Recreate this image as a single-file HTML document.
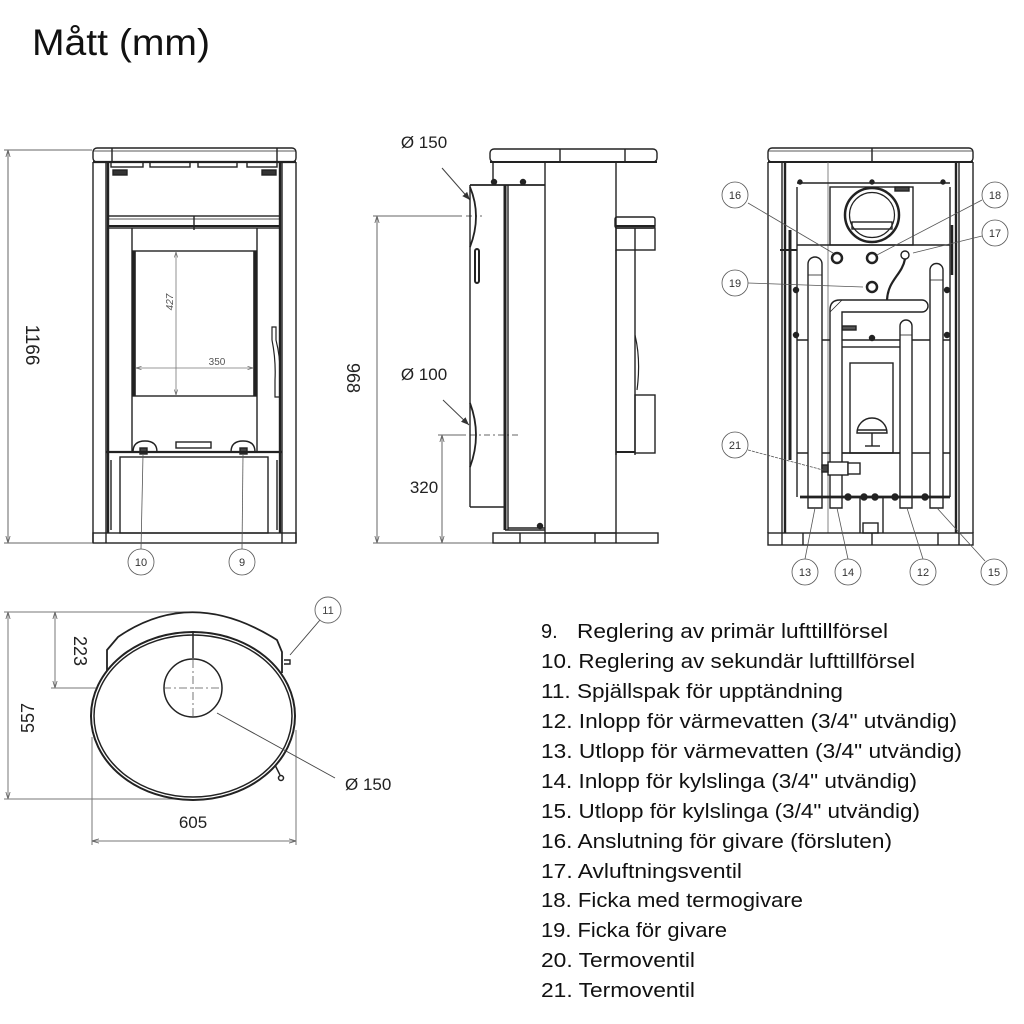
<!DOCTYPE html>
<html><head><meta charset="utf-8"><style>
html,body{margin:0;padding:0;background:#fff;}
svg{display:block;}
text{font-family:"Liberation Sans",sans-serif;}
</style></head><body>
<svg width="1024" height="1024" viewBox="0 0 1024 1024" xmlns="http://www.w3.org/2000/svg">
<defs>
<marker id="ar" viewBox="0 0 10 10" refX="10" refY="5" markerWidth="7" markerHeight="7" orient="auto-start-reverse"><path d="M0,2 L10,5 L0,8" fill="none" stroke="#666" stroke-width="1.2"/></marker>
<marker id="ak" viewBox="0 0 10 10" refX="10" refY="5" markerWidth="8" markerHeight="8" orient="auto"><path d="M0,1 L10,5 L0,9 Z" fill="#333"/></marker>
</defs>
<rect width="1024" height="1024" fill="#fff"/>
<text x="851" y="-3" font-size="14" fill="#000">g,</text>
<text x="32" y="55" font-size="37" fill="#111" textLength="178" lengthAdjust="spacingAndGlyphs">Mått (mm)</text>

<!-- ================= FRONT VIEW ================= -->
<g stroke="#666" stroke-width="1" fill="none">
<line x1="8" y1="150" x2="8" y2="543" marker-start="url(#ar)" marker-end="url(#ar)"/>
<line x1="4" y1="150" x2="92" y2="150"/>
<line x1="4" y1="543" x2="92" y2="543"/>
</g>
<text transform="translate(26,345) rotate(90)" font-size="19" text-anchor="middle" fill="#222">1166</text>
<g stroke="#222" stroke-width="1.4" fill="none">
<rect x="93" y="148" width="203" height="14" rx="4"/>
<line x1="93" y1="151" x2="296" y2="151" stroke-width="0.7"/>
<line x1="112" y1="148" x2="112" y2="162"/>
<line x1="277" y1="148" x2="277" y2="162"/>
<line x1="93" y1="162" x2="93" y2="543"/>
<line x1="296" y1="162" x2="296" y2="543"/>
<line x1="106" y1="162" x2="106" y2="533"/>
<line x1="108" y1="162" x2="108" y2="533" stroke-width="2.4"/>
<line x1="282" y1="162" x2="282" y2="533"/>
<line x1="280" y1="162" x2="280" y2="533" stroke-width="2.4"/>
<line x1="93" y1="162" x2="296" y2="162" stroke-width="2.2"/>
<rect x="111" y="162" width="32" height="5"/>
<rect x="150" y="162" width="40" height="5"/>
<rect x="198" y="162" width="39" height="5"/>
<rect x="247" y="162" width="30" height="5"/>
<rect x="113" y="170" width="14" height="5" fill="#333"/>
<rect x="262" y="170" width="14" height="5" fill="#333"/>
<rect x="108" y="216" width="172" height="12"/>
<line x1="108" y1="219" x2="280" y2="219" stroke-width="0.8"/>
<line x1="108" y1="226" x2="280" y2="226" stroke-width="2"/>
<line x1="194" y1="216" x2="194" y2="230"/>
<line x1="132" y1="228" x2="132" y2="453"/>
<line x1="257" y1="228" x2="257" y2="453"/>
<rect x="133" y="251" width="123" height="145"/>
<line x1="134.5" y1="251" x2="134.5" y2="396" stroke-width="2.6"/>
<line x1="254.5" y1="251" x2="254.5" y2="396" stroke-width="2.6"/>
<path d="M272,327 L276,327 L276,340 Q281,360 280,380 L280,397 L275,397 L275,380 Q276,360 272,340 Z" stroke-width="1.2"/>
<rect x="176" y="442" width="35" height="6"/>
<path d="M133,452 Q133,441 145,441 Q157,441 157,452" />
<path d="M231,452 Q231,441 243,441 Q255,441 255,452" />
<rect x="140" y="448" width="7" height="6" fill="#444"/>
<rect x="240" y="448" width="7" height="6" fill="#444"/>
<line x1="106" y1="452" x2="282" y2="452" stroke-width="2.2"/>
<rect x="120" y="457" width="148" height="76"/>
<line x1="111" y1="460" x2="111" y2="530"/>
<line x1="277" y1="460" x2="277" y2="530"/>
<rect x="93" y="533" width="203" height="10"/>
<line x1="106" y1="533" x2="106" y2="543"/>
<line x1="282" y1="533" x2="282" y2="543"/>
</g>
<g stroke="#777" stroke-width="0.8" fill="none">
<line x1="176" y1="252" x2="176" y2="395" marker-start="url(#ar)" marker-end="url(#ar)"/>
<line x1="136" y1="368" x2="253" y2="368" marker-start="url(#ar)" marker-end="url(#ar)"/>
</g>
<text transform="translate(173,302) rotate(-90)" font-size="10" font-style="italic" text-anchor="middle" fill="#555">427</text>
<text x="217" y="365" font-size="10" text-anchor="middle" fill="#555">350</text>
<g stroke="#555" stroke-width="0.8" fill="#fff">
<line x1="143" y1="455" x2="141" y2="549"/>
<line x1="243" y1="455" x2="242" y2="549"/>
<circle cx="141" cy="562" r="13"/>
<circle cx="242" cy="562" r="13"/>
</g>
<text x="141" y="566" font-size="11" text-anchor="middle" fill="#333">10</text>
<text x="242" y="566" font-size="11" text-anchor="middle" fill="#333">9</text>

<!-- ================= SIDE VIEW ================= -->
<g stroke="#666" stroke-width="1" fill="none">
<line x1="377" y1="216" x2="377" y2="543" marker-start="url(#ar)" marker-end="url(#ar)"/>
<line x1="373" y1="216" x2="462" y2="216"/>
<line x1="466" y1="216" x2="482" y2="216" stroke-dasharray="6,3,2,3"/>
<line x1="373" y1="543" x2="493" y2="543"/>
<line x1="442" y1="435" x2="442" y2="543" marker-start="url(#ar)" marker-end="url(#ar)"/>
<line x1="438" y1="435" x2="466" y2="435"/>
<line x1="470" y1="435" x2="520" y2="435" stroke-dasharray="6,3,2,3"/>
<line x1="442" y1="168" x2="470" y2="200" stroke="#444" marker-end="url(#ak)"/>
<line x1="443" y1="400" x2="469" y2="425" stroke="#444" marker-end="url(#ak)"/>
</g>
<text transform="translate(347,378) rotate(90)" font-size="18" text-anchor="middle" fill="#222">968</text>
<text x="424" y="148" font-size="17" text-anchor="middle" fill="#222">Ø 150</text>
<text x="424" y="380" font-size="17" text-anchor="middle" fill="#222">Ø 100</text>
<text x="424" y="493" font-size="17" text-anchor="middle" fill="#222">320</text>
<g stroke="#222" stroke-width="1.4" fill="none">
<rect x="490" y="149" width="167" height="13" rx="4"/>
<line x1="560" y1="149" x2="560" y2="162"/>
<line x1="625" y1="149" x2="625" y2="162"/>
<line x1="493" y1="162" x2="493" y2="185"/>
<line x1="490" y1="162" x2="657" y2="162" stroke-width="2"/>
<rect x="545" y="162" width="71" height="371"/>
<line x1="470" y1="185" x2="545" y2="185" stroke-width="1.8"/>
<line x1="470" y1="185" x2="470" y2="507"/>
<line x1="470" y1="507" x2="505" y2="507"/>
<line x1="505" y1="185" x2="505" y2="530" stroke-width="3"/>
<line x1="508" y1="185" x2="508" y2="530"/>
<line x1="505" y1="530" x2="545" y2="530"/>
<line x1="508" y1="528" x2="545" y2="528"/>
<circle cx="494" cy="182" r="2.5" fill="#222"/>
<circle cx="523" cy="182" r="2.5" fill="#222"/>
<circle cx="540" cy="526" r="2.5" fill="#222"/>
<path d="M470,187 Q482,216 470,247" stroke-width="1.8"/>
<rect x="475" y="249" width="4" height="34" rx="2" stroke-width="2"/>
<path d="M470,403 Q482,435 470,467" stroke-width="1.8"/>
<rect x="615" y="217" width="40" height="11" rx="2"/>
<line x1="615" y1="226" x2="655" y2="226" stroke-width="2"/>
<rect x="616" y="228" width="39" height="22"/>
<line x1="635" y1="228" x2="635" y2="455"/>
<line x1="616" y1="250" x2="616" y2="455"/>
<path d="M635,335 Q641,360 637,390" stroke-width="1.2"/>
<rect x="635" y="395" width="20" height="58"/>
<line x1="616" y1="452" x2="635" y2="452" stroke-width="2"/>
<rect x="493" y="533" width="165" height="10"/>
<line x1="520" y1="533" x2="520" y2="543"/>
<line x1="545" y1="533" x2="545" y2="543"/>
<line x1="595" y1="533" x2="595" y2="543"/>
<line x1="616" y1="533" x2="616" y2="543"/>
</g>

<!-- ================= REAR VIEW ================= -->
<g stroke="#222" stroke-width="1.4" fill="none">
<rect x="768" y="148" width="205" height="14" rx="4"/>
<line x1="768" y1="151" x2="973" y2="151" stroke-width="0.7"/>
<line x1="872" y1="148" x2="872" y2="162"/>
<line x1="768" y1="162" x2="973" y2="162" stroke-width="2"/>
<line x1="768" y1="162" x2="768" y2="533"/>
<line x1="973" y1="162" x2="973" y2="533"/>
<line x1="782" y1="162" x2="782" y2="533"/>
<line x1="785" y1="162" x2="785" y2="533" stroke-width="2.4"/>
<line x1="959" y1="162" x2="959" y2="533"/>
<line x1="956" y1="162" x2="956" y2="533" stroke-width="2.4"/>
<line x1="828" y1="162" x2="828" y2="533" stroke="#666" stroke-width="0.8"/>
<line x1="797" y1="183" x2="950" y2="183"/>
<circle cx="800" cy="182" r="2" fill="#222"/><circle cx="872" cy="182" r="2" fill="#222"/><circle cx="943" cy="182" r="2" fill="#222"/>
<line x1="797" y1="187" x2="797" y2="497"/>
<line x1="950" y1="187" x2="950" y2="497"/>
<line x1="790" y1="230" x2="790" y2="460" stroke-width="3"/>
<line x1="952" y1="225" x2="952" y2="275" stroke-width="2.5"/>
<line x1="780" y1="250" x2="797" y2="250" stroke-width="2"/>
<rect x="830" y="187" width="83" height="58"/>
<rect x="895" y="187" width="14" height="4" fill="#444"/>
<circle cx="872" cy="215" r="27" stroke-width="2.5"/>
<circle cx="872" cy="215" r="22.5" stroke-width="1.2"/>
<rect x="852" y="222" width="40" height="7"/>
<line x1="797" y1="245" x2="950" y2="245"/>
<circle cx="837" cy="258" r="5" stroke-width="2.5"/>
<circle cx="872" cy="258" r="5" stroke-width="2.5"/>
<circle cx="872" cy="287" r="5" stroke-width="2.5"/>
<circle cx="905" cy="255" r="4"/>
<path d="M905,259 C902,275 888,280 887,300" stroke-width="2.2"/>
<circle cx="872" cy="338" r="2.5" fill="#222"/>
<circle cx="947" cy="290" r="2.5" fill="#222"/><circle cx="947" cy="335" r="2.5" fill="#222"/>
<circle cx="796" cy="290" r="2.5" fill="#222"/><circle cx="796" cy="335" r="2.5" fill="#222"/>
<rect x="842" y="326" width="14" height="4" fill="#555"/>
<line x1="797" y1="340" x2="950" y2="340"/>
<rect x="840" y="347" width="70" height="106"/>
<rect x="850" y="363" width="43" height="90"/>
<line x1="797" y1="453" x2="950" y2="453"/>
<path d="M857,433 A15,15 0 0 1 887,433 Z"/>
<line x1="857" y1="430" x2="887" y2="430"/>
<line x1="872" y1="433" x2="872" y2="446"/>
<line x1="865" y1="446" x2="880" y2="446"/>
<!-- pipes -->
<path d="M808,508 L808,264 A7,7 0 0 1 822,264 L822,508 Z" fill="#fff"/>
<path d="M930,508 L930,270 A6.5,6.5 0 0 1 943,270 L943,508 Z" fill="#fff"/>
<path d="M900,508 L900,326 A6,6 0 0 1 912,326 L912,508 Z" fill="#fff"/>
<path d="M830,508 L830,310 Q830,300 840,300 L922,300 A6,6 0 0 1 922,312 L842,312 L842,508 Z" fill="#fff"/>
<line x1="830" y1="312" x2="842" y2="300" stroke-width="0.8"/>
<line x1="808" y1="275" x2="822" y2="275" stroke-width="0.8"/>
<line x1="930" y1="280" x2="943" y2="280" stroke-width="0.8"/>
<line x1="900" y1="335" x2="912" y2="335" stroke-width="0.8"/>
<line x1="800" y1="497" x2="950" y2="497" stroke-width="2.8"/>
<circle cx="848" cy="497" r="3" fill="#222"/><circle cx="864" cy="497" r="3" fill="#222"/><circle cx="875" cy="497" r="3" fill="#222"/><circle cx="895" cy="497" r="3" fill="#222"/><circle cx="925" cy="497" r="3" fill="#222"/>
<rect x="828" y="462" width="20" height="13" fill="#fff"/>
<rect x="848" y="463" width="12" height="11" fill="#fff"/>
<rect x="822" y="465" width="6" height="7" fill="#444"/>
<line x1="860" y1="497" x2="860" y2="533"/>
<line x1="883" y1="497" x2="883" y2="533"/>
<rect x="863" y="523" width="15" height="10"/>
<rect x="768" y="533" width="205" height="12"/>
<line x1="782" y1="533" x2="782" y2="545"/>
<line x1="803" y1="533" x2="803" y2="545"/>
<line x1="872" y1="533" x2="872" y2="545"/>
<line x1="938" y1="533" x2="938" y2="545"/>
<line x1="959" y1="533" x2="959" y2="545"/>
</g>
<g stroke="#555" stroke-width="0.8" fill="#fff">
<line x1="748" y1="203" x2="833" y2="253"/>
<line x1="982" y1="200" x2="877" y2="255"/>
<line x1="982" y1="236" x2="913" y2="253"/>
<line x1="748" y1="283" x2="863" y2="287"/>
<line x1="748" y1="450" x2="823" y2="470" stroke-dasharray="3,1"/>
<line x1="815" y1="508" x2="805" y2="559"/>
<line x1="837" y1="508" x2="848" y2="559"/>
<line x1="907" y1="508" x2="923" y2="559"/>
<line x1="937" y1="508" x2="985" y2="561"/>
<circle cx="735" cy="195" r="13"/>
<circle cx="995" cy="195" r="13"/>
<circle cx="995" cy="233" r="13"/>
<circle cx="735" cy="283" r="13"/>
<circle cx="735" cy="445" r="13"/>
<circle cx="805" cy="572" r="13"/>
<circle cx="848" cy="572" r="13"/>
<circle cx="923" cy="572" r="13"/>
<circle cx="994" cy="572" r="13"/>
</g>
<g font-size="11" text-anchor="middle" fill="#333">
<text x="735" y="199">16</text>
<text x="995" y="199">18</text>
<text x="995" y="237">17</text>
<text x="735" y="287">19</text>
<text x="735" y="449">21</text>
<text x="805" y="576">13</text>
<text x="848" y="576">14</text>
<text x="923" y="576">12</text>
<text x="994" y="576">15</text>
</g>

<!-- ================= TOP VIEW ================= -->
<g stroke="#777" stroke-width="1" fill="none">
<line x1="8" y1="612" x2="8" y2="799" marker-start="url(#ar)" marker-end="url(#ar)"/>
<line x1="4" y1="612" x2="188" y2="612"/>
<line x1="4" y1="799" x2="180" y2="799"/>
<line x1="55" y1="612" x2="55" y2="688" marker-start="url(#ar)" marker-end="url(#ar)"/>
<line x1="51" y1="688" x2="163" y2="688"/>
<line x1="92" y1="737" x2="92" y2="845"/>
<line x1="296" y1="730" x2="296" y2="845"/>
<line x1="92" y1="841" x2="296" y2="841" marker-start="url(#ar)" marker-end="url(#ar)"/>
</g>
<text transform="translate(34,718) rotate(-90)" font-size="18" text-anchor="middle" fill="#222">557</text>
<text transform="translate(74,651) rotate(90)" font-size="18" text-anchor="middle" fill="#222">223</text>
<text x="193" y="828" font-size="17" text-anchor="middle" fill="#222">605</text>
<text x="345" y="790" font-size="17" fill="#222">Ø 150</text>
<g stroke="#222" stroke-width="1.5" fill="none">
<path d="M107,673 L107,650 L118,637 Q192,586 277,640 L282,652 L282,673" stroke-width="1.8"/>
<ellipse cx="193" cy="716" rx="102" ry="84" fill="#fff" stroke-width="2"/>
<ellipse cx="193" cy="716" rx="99" ry="81"/>
<line x1="193" y1="632" x2="193" y2="658"/>
<circle cx="193" cy="688" r="29"/>
<line x1="163" y1="688" x2="223" y2="688" stroke="#555" stroke-width="0.8" stroke-dasharray="8,3,2,3"/>
<line x1="193" y1="660" x2="193" y2="716" stroke="#555" stroke-width="0.8" stroke-dasharray="8,3,2,3"/>
<path d="M284,660 L290,660 L290,664 L284,664" stroke-width="1.4"/>
<path d="M275,765 L280,775" stroke-width="1.5"/>
<circle cx="281" cy="778" r="2.5"/>
</g>
<g stroke="#444" stroke-width="0.9" fill="#fff">
<line x1="217" y1="713" x2="335" y2="778"/>
<line x1="320" y1="620" x2="290" y2="655"/>
<circle cx="328" cy="610" r="13" stroke="#666"/>
</g>
<text x="328" y="614" font-size="11" text-anchor="middle" fill="#444">11</text>

<!-- ================= LIST ================= -->
<g font-size="20" fill="#111">
<text x="541" y="638">9.</text>
<text x="577" y="638" textLength="311" lengthAdjust="spacingAndGlyphs">Reglering av primär lufttillförsel</text>
<text x="541" y="668" textLength="374" lengthAdjust="spacingAndGlyphs">10. Reglering av sekundär lufttillförsel</text>
<text x="541" y="698" textLength="302" lengthAdjust="spacingAndGlyphs">11. Spjällspak för upptändning</text>
<text x="541" y="728" textLength="416" lengthAdjust="spacingAndGlyphs">12. Inlopp för värmevatten (3/4" utvändig)</text>
<text x="541" y="758" textLength="421" lengthAdjust="spacingAndGlyphs">13. Utlopp för värmevatten (3/4" utvändig)</text>
<text x="541" y="788" textLength="376" lengthAdjust="spacingAndGlyphs">14. Inlopp för kylslinga (3/4" utvändig)</text>
<text x="541" y="818" textLength="379" lengthAdjust="spacingAndGlyphs">15. Utlopp för kylslinga (3/4" utvändig)</text>
<text x="541" y="848" textLength="351" lengthAdjust="spacingAndGlyphs">16. Anslutning för givare (försluten)</text>
<text x="541" y="878" textLength="201" lengthAdjust="spacingAndGlyphs">17. Avluftningsventil</text>
<text x="541" y="907" textLength="262" lengthAdjust="spacingAndGlyphs">18. Ficka med termogivare</text>
<text x="541" y="937" textLength="186" lengthAdjust="spacingAndGlyphs">19. Ficka för givare</text>
<text x="541" y="967" textLength="154" lengthAdjust="spacingAndGlyphs">20. Termoventil</text>
<text x="541" y="997" textLength="154" lengthAdjust="spacingAndGlyphs">21. Termoventil</text>
</g>
</svg>
</body></html>
